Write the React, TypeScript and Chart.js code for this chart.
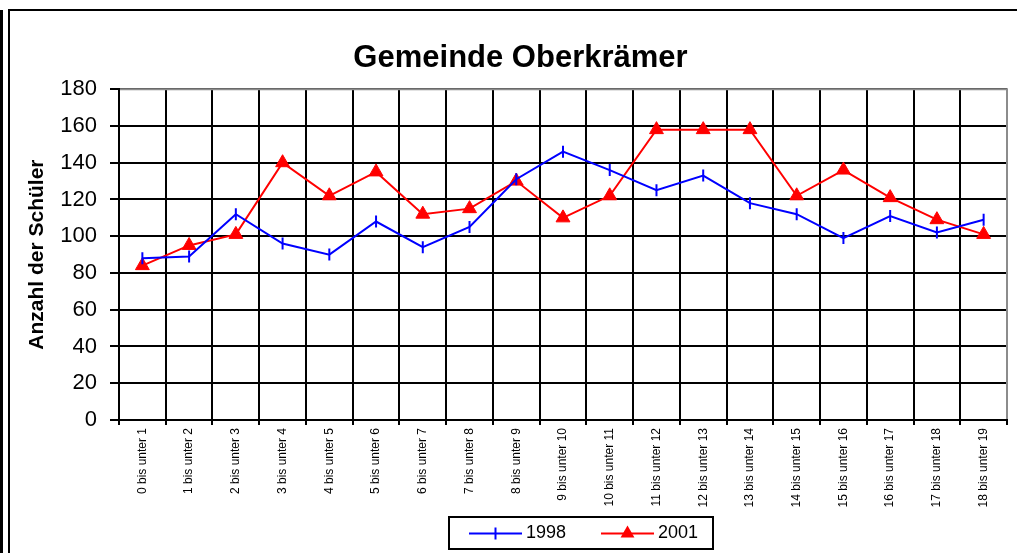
import React, { useEffect, useRef } from "react";
import { Chart, registerables } from "chart.js";

Chart.register(...registerables);

const FONT = "'Liberation Sans', Arial, Helvetica, sans-serif";

const categories = [
  "0 bis unter 1",
  "1 bis unter 2",
  "2 bis unter 3",
  "3 bis unter 4",
  "4 bis unter 5",
  "5 bis unter 6",
  "6 bis unter 7",
  "7 bis unter 8",
  "8 bis unter 9",
  "9 bis unter 10",
  "10 bis unter 11",
  "11 bis unter 12",
  "12 bis unter 13",
  "13 bis unter 14",
  "14 bis unter 15",
  "15 bis unter 16",
  "16 bis unter 17",
  "17 bis unter 18",
  "18 bis unter 19",
];

const values1998 = [88, 89, 112, 96, 90, 108, 94, 105, 131, 146, 136, 125, 133, 118, 112, 99, 111, 102, 109];
const values2001 = [84, 95, 101, 140, 122, 135, 112, 115, 130, 110, 122, 158, 158, 158, 122, 136, 121, 109, 101];

const seriesNames = ["1998", "2001"];
const chartTitle = "Gemeinde Oberkrämer";
const yAxisTitle = "Anzahl der Schüler";
const yMin = 0;
const yMax = 180;
const yStep = 20;

const plotFramePlugin = {
  id: "plotFrame",
  beforeDatasetsDraw(chart: any) {
    const { ctx, chartArea } = chart;
    ctx.save();
    ctx.strokeStyle = "#8c8c8c";
    ctx.lineWidth = 2;
    ctx.beginPath();
    ctx.moveTo(chartArea.left + 1, chartArea.top);
    ctx.lineTo(chartArea.right, chartArea.top);
    ctx.lineTo(chartArea.right, chartArea.bottom - 1);
    ctx.stroke();
    ctx.restore();
  },
};

const boxLegendPlugin = {
  id: "boxLegend",
  afterDraw(chart: any) {
    const { ctx } = chart;
    const box = { left: 449, top: 517, width: 264, height: 32 };
    ctx.save();
    ctx.fillStyle = "#ffffff";
    ctx.fillRect(box.left, box.top, box.width, box.height);
    ctx.strokeStyle = "#000000";
    ctx.lineWidth = 2;
    ctx.strokeRect(box.left, box.top, box.width, box.height);
    const cy = box.top + box.height / 2 + 0.5;
    chart.data.datasets.forEach((ds: any, i: number) => {
      const x0 = 469 + i * 132;
      const x1 = x0 + 53;
      const mx = (x0 + x1) / 2;
      ctx.strokeStyle = ds.borderColor;
      ctx.lineWidth = 2;
      ctx.beginPath();
      ctx.moveTo(x0, cy);
      ctx.lineTo(x1, cy);
      ctx.stroke();
      if (ds.pointStyle === "triangle") {
        const r = ds.pointRadius;
        ctx.fillStyle = ds.pointBackgroundColor;
        ctx.beginPath();
        ctx.moveTo(mx, cy - r);
        ctx.lineTo(mx + r * Math.sin((2 * Math.PI) / 3), cy - r * Math.cos((2 * Math.PI) / 3));
        ctx.lineTo(mx + r * Math.sin((4 * Math.PI) / 3), cy - r * Math.cos((4 * Math.PI) / 3));
        ctx.closePath();
        ctx.fill();
      } else {
        const r = ds.pointRadius;
        ctx.beginPath();
        ctx.moveTo(mx, cy - r);
        ctx.lineTo(mx, cy + r);
        ctx.stroke();
      }
      ctx.fillStyle = "#000000";
      ctx.font = `18px ${FONT}`;
      ctx.textAlign = "left";
      ctx.textBaseline = "middle";
      ctx.fillText(ds.label, x1 + 4, cy);
    });
    ctx.restore();
  },
};

function ChartCanvas() {
  const ref = useRef<HTMLCanvasElement | null>(null);
  useEffect(() => {
    if (!ref.current) return;
    const chart = new Chart(ref.current, {
      type: "line",
      data: {
        labels: categories,
        datasets: [
          {
            label: seriesNames[0],
            data: values1998,
            borderColor: "#0000ff",
            backgroundColor: "#0000ff",
            borderWidth: 2,
            pointStyle: "line",
            pointRotation: 90,
            pointRadius: 6,
            pointBorderWidth: 2,
            pointBorderColor: "#0000ff",
            pointBackgroundColor: "#0000ff",
            tension: 0,
            yAxisID: "y",
          },
          {
            label: seriesNames[1],
            data: values2001,
            borderColor: "#ff0000",
            backgroundColor: "#ff0000",
            borderWidth: 2,
            pointStyle: "triangle",
            pointRadius: 8,
            pointBorderWidth: 1,
            pointBorderColor: "#ff0000",
            pointBackgroundColor: "#ff0000",
            tension: 0,
            yAxisID: "y",
          },
        ],
      } as any,
      options: {
        animation: false,
        responsive: false,
        devicePixelRatio: 1,
        events: [],
        layout: { padding: { left: 24, right: 0, top: 0, bottom: 40 } },
        plugins: {
          legend: { display: false },
          tooltip: { enabled: false },
          title: {
            display: true,
            text: chartTitle,
            color: "#000000",
            font: { family: FONT, size: 31, weight: "bold", lineHeight: 1.2 },
            padding: { top: 40, bottom: 12 },
          },
        },
        scales: {
          x: {
            type: "category",
            offset: true,
            grid: { offset: true, color: "#000000", lineWidth: 2, tickLength: 5, drawTicks: true },
            border: { color: "#000000", width: 2 },
            ticks: {
              autoSkip: false,
              minRotation: 90,
              maxRotation: 90,
              padding: 3,
              color: "#000000",
              font: { family: FONT, size: 12 },
            },
            afterFit: (s: any) => {
              s.height = 93;
            },
          },
          y: {
            type: "linear",
            position: "left",
            min: yMin,
            max: yMax,
            ticks: { stepSize: yStep, padding: 13, color: "#000000", font: { family: FONT, size: 22 } },
            grid: { color: "#000000", lineWidth: 2, tickLength: 9 },
            border: { color: "#000000", width: 2 },
            title: {
              display: true,
              text: yAxisTitle,
              color: "#000000",
              font: { family: FONT, size: 21, weight: "bold" },
              padding: { top: 1, bottom: 0 },
            },
            afterFit: (s: any) => {
              s.width = 95;
            },
          },
          yPad: {
            type: "linear",
            position: "right",
            display: true,
            grid: { display: false, drawTicks: false },
            border: { display: false },
            ticks: { display: false },
            afterFit: (s: any) => {
              s.width = 10;
            },
          },
        },
      } as any,
      plugins: [plotFramePlugin, boxLegendPlugin],
    });
    return () => chart.destroy();
  }, []);
  return <canvas ref={ref} width={1017} height={553} style={{ position: "absolute", left: 0, top: 0, display: "block" }} />;
}

export default function App() {
  return (
    <div
      style={{
        position: "absolute",
        left: 0,
        top: 0,
        width: 1017,
        height: 553,
        background: "#ffffff",
        overflow: "hidden",
      }}
    >
      <div style={{ position: "absolute", left: 0, top: 10, width: 3, height: 560, background: "#000" }} />
      <div
        style={{
          position: "absolute",
          left: 8,
          top: 9,
          width: 1100,
          height: 600,
          borderLeft: "2px solid #000",
          borderTop: "2px solid #000",
        }}
      />
      <ChartCanvas />
    </div>
  );
}
